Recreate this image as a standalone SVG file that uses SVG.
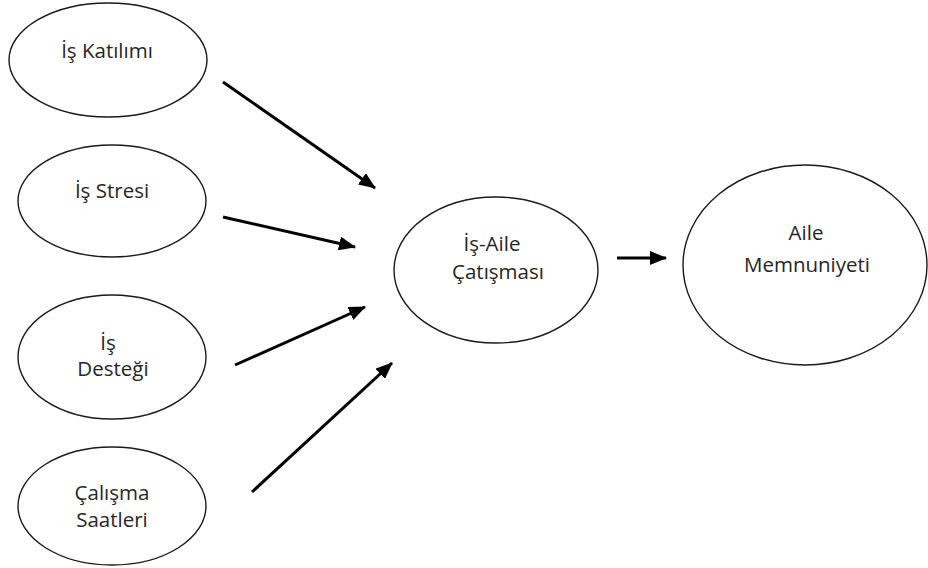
<svg xmlns="http://www.w3.org/2000/svg" width="928" height="568" viewBox="0 0 928 568">
<style>
.node ellipse{fill:#fff;stroke:#1a1a1a;stroke-width:1.4}
.node text{font-family:"Open Sans","Noto Sans",sans-serif;font-size:20.5px;fill:#262626;text-anchor:middle}
.edge{stroke:#000;stroke-width:3;fill:none;marker-end:url(#ah)}
</style>
<defs>
<marker id="ah" markerUnits="userSpaceOnUse" markerWidth="18" markerHeight="14" refX="16" refY="7" orient="auto">
<path d="M0,0 L17,7 L0,14 Z" fill="#000"/>
</marker>
</defs>
<rect width="928" height="568" fill="#fff"/>
<g id="n1" class="node"><ellipse cx="108" cy="60" rx="99" ry="57"/><text x="107" y="58">İş Katılımı</text></g>
<g id="n2" class="node"><ellipse cx="112" cy="201" rx="94" ry="56"/><text x="112" y="198">İş Stresi</text></g>
<g id="n3" class="node"><ellipse cx="112" cy="357" rx="94" ry="62"/><text x="108" y="350">İş</text><text x="113" y="376">Desteği</text></g>
<g id="n4" class="node"><ellipse cx="112" cy="506" rx="94" ry="59"/><text x="112" y="500">Çalışma</text><text x="112" y="527">Saatleri</text></g>
<g id="n5" class="node"><ellipse cx="496" cy="270" rx="102" ry="73"/><text x="492" y="251">İş-Aile</text><text x="498" y="279">Çatışması</text></g>
<g id="n6" class="node"><ellipse cx="805" cy="265" rx="122" ry="100"/><text x="806" y="240">Aile</text><text x="807" y="272">Memnuniyeti</text></g>
<g id="edges">
<line class="edge" x1="223" y1="82" x2="375" y2="188"/>
<line class="edge" x1="223" y1="217" x2="355" y2="247"/>
<line class="edge" x1="235" y1="365" x2="365" y2="307"/>
<line class="edge" x1="252" y1="492" x2="392" y2="363"/>
<line class="edge" x1="617" y1="258" x2="666" y2="258"/>
</g>
</svg>
